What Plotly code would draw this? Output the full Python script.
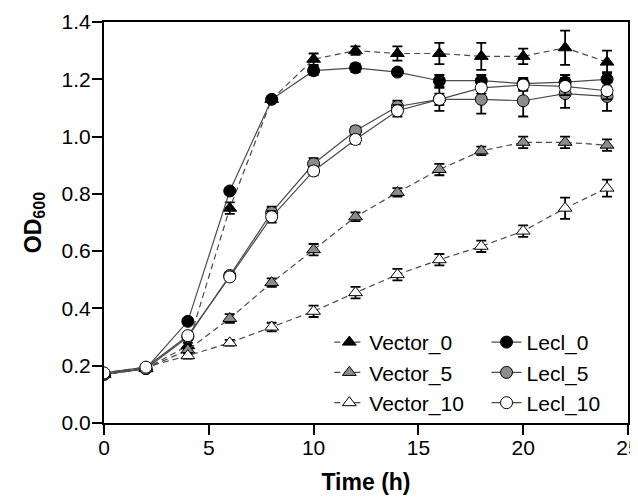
import plotly.graph_objects as go

# sampling times (h)
time_h = [0, 2, 4, 6, 8, 10, 12, 14, 16, 18, 20, 22, 24]

vector_0 = [0.17, 0.19, 0.27, 0.75, 1.13, 1.27, 1.30, 1.29, 1.29, 1.28, 1.28, 1.31, 1.26]
vector_0_err = [0.01, 0.01, 0.01, 0.02, 0.01, 0.02, 0.015, 0.025, 0.037, 0.047, 0.027, 0.06, 0.04]
vector_5 = [0.17, 0.19, 0.255, 0.365, 0.49, 0.605, 0.72, 0.805, 0.885, 0.95, 0.98, 0.98, 0.97]
vector_5_err = [0.01, 0.01, 0.01, 0.015, 0.015, 0.02, 0.015, 0.015, 0.02, 0.015, 0.02, 0.02, 0.02]
vector_10 = [0.175, 0.195, 0.235, 0.28, 0.335, 0.39, 0.455, 0.518, 0.57, 0.617, 0.67, 0.75, 0.82]
vector_10_err = [0.01, 0.01, 0.01, 0.01, 0.015, 0.02, 0.02, 0.02, 0.02, 0.02, 0.02, 0.037, 0.03]

lecl_0 = [0.17, 0.19, 0.355, 0.81, 1.13, 1.23, 1.24, 1.225, 1.195, 1.195, 1.185, 1.19, 1.20]
lecl_0_err = [0.01, 0.01, 0.01, 0.01, 0.01, 0.015, 0.015, 0.01, 0.02, 0.02, 0.02, 0.025, 0.025]
lecl_5 = [0.17, 0.19, 0.30, 0.515, 0.735, 0.905, 1.02, 1.105, 1.13, 1.13, 1.125, 1.15, 1.14]
lecl_5_err = [0.01, 0.01, 0.01, 0.01, 0.02, 0.02, 0.015, 0.02, 0.02, 0.05, 0.055, 0.05, 0.05]
lecl_10 = [0.175, 0.195, 0.305, 0.51, 0.72, 0.88, 0.99, 1.09, 1.13, 1.17, 1.18, 1.175, 1.16]
lecl_10_err = [0.01, 0.01, 0.01, 0.01, 0.02, 0.015, 0.015, 0.02, 0.04, 0.02, 0.02, 0.03, 0.03]

FONT = "Liberation Sans, Arial, sans-serif"
LINE_COL = "#4a4a4a"
GREY = "#8c8c8c"

series = [
    # name, y, err, symbol, fill, dash, legend
    ("Vector_0", vector_0, vector_0_err, "triangle-up", "black", "6px,4px", "legend"),
    ("Vector_5", vector_5, vector_5_err, "triangle-up", GREY, "6px,4px", "legend"),
    ("Vector_10", vector_10, vector_10_err, "triangle-up", "white", "6px,4px", "legend"),
    ("Lecl_0", lecl_0, lecl_0_err, "circle", "black", "solid", "legend2"),
    ("Lecl_5", lecl_5, lecl_5_err, "circle", GREY, "solid", "legend2"),
    ("Lecl_10", lecl_10, lecl_10_err, "circle", "white", "solid", "legend2"),
]

fig = go.Figure()
for name, y, err, sym, fill, dash, leg in series:
    fig.add_trace(go.Scatter(
        x=time_h, y=y, name=name, mode="lines+markers", legend=leg,
        line=dict(color=LINE_COL, width=1.2, dash=dash),
        marker=dict(symbol=sym, size=12, color=fill, line=dict(color="black", width=1)),
        error_y=dict(type="data", array=err, color="black", thickness=1.8, width=5),
    ))

legend_style = dict(
    orientation="v", yanchor="top", xanchor="left", y=0.252,
    font=dict(size=21), bgcolor="rgba(0,0,0,0)", tracegroupgap=0, itemwidth=30,
)

# the page adds an 8px body margin, so the figure is drawn 8px smaller
fig.update_layout(
    width=630, height=495,
    margin=dict(l=96, r=10, t=14, b=80, autoexpand=False),
    plot_bgcolor="white", paper_bgcolor="white",
    font=dict(family=FONT, size=21, color="black"),
    showlegend=True,
    legend=dict(legend_style, x=0.43),
    legend2=dict(legend_style, x=0.73),
    xaxis=dict(
        range=[0, 25], dtick=5, tick0=0, showgrid=False, zeroline=False,
        ticks="outside", ticklen=10, tickwidth=1.5, tickcolor="black",
        ticklabelstandoff=-5, ticklabeloverflow="allow",
        showline=True, linecolor="black", linewidth=2, mirror=True,
        title=dict(text="<b>Time (h)</b>", font=dict(size=23), standoff=16),
    ),
    yaxis=dict(
        range=[0, 1.4], dtick=0.2, tick0=0, tickformat=".1f", showgrid=False,
        zeroline=False, ticks="outside", ticklen=10, tickwidth=1.5, tickcolor="black",
        ticklabelstandoff=-3,
        showline=True, linecolor="black", linewidth=2, mirror=True,
        title=dict(text="<b>OD<sub>600</sub></b>", font=dict(size=23), standoff=14),
    ),
)

fig.write_html("out.html")
